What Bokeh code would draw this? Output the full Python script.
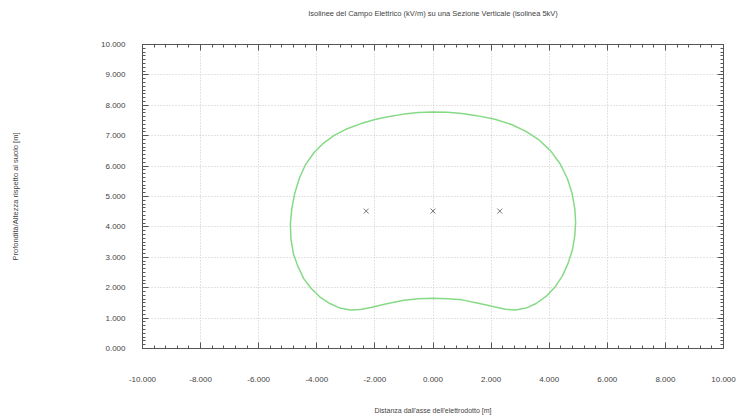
from bokeh.plotting import figure
from bokeh.models import LinearAxis, PrintfTickFormatter, Range1d, SingleIntervalTicker
from bokeh.embed import file_html
from bokeh.resources import INLINE

# Isoline (5 kV/m) contour points
iso_x = [0.0, -0.5, -1.0, -1.5, -2.0, -2.5, -3.0, -3.4, -3.8, -4.1, -4.4, -4.6, -4.76, -4.86,
         -4.91, -4.89, -4.80, -4.65, -4.45, -4.20, -3.90, -3.55, -3.20, -2.85, -2.50, -2.10,
         -1.60, -1.00, -0.50, 0.00, 0.50, 1.00, 1.60, 2.10, 2.50, 2.85, 3.20, 3.55, 3.90,
         4.20, 4.45, 4.65, 4.80, 4.88, 4.91, 4.88, 4.79, 4.62, 4.38, 4.05, 3.65, 3.20, 2.70,
         2.10, 1.50, 1.00, 0.50, 0.0]
iso_y = [7.78, 7.76, 7.71, 7.63, 7.53, 7.39, 7.21, 7.01, 6.73, 6.44, 6.03, 5.60, 5.10, 4.60,
         4.10, 3.60, 3.10, 2.70, 2.30, 1.98, 1.70, 1.48, 1.33, 1.27, 1.28, 1.36,
         1.47, 1.59, 1.64, 1.65, 1.64, 1.60, 1.48, 1.37, 1.29, 1.27, 1.33, 1.48, 1.72,
         2.02, 2.38, 2.80, 3.25, 3.70, 4.15, 4.60, 5.10, 5.60, 6.07, 6.50, 6.86, 7.14, 7.37,
         7.55, 7.66, 7.73, 7.77, 7.78]

# Conductor positions
cond_x = [-2.3, 0.0, 2.3]
cond_y = [4.52, 4.52, 4.52]

title_text = "Isolinee del Campo Elettrico (kV/m) su una Sezione Verticale (isolinea 5kV)"
x_label = "Distanza dall'asse dell'elettrodotto [m]"
y_label = "Profondità/Altezza rispetto al suolo [m]"

FONT = "Liberation Sans"
TXT = "#444444"
AX = "#555555"

p = figure(width=742, height=416, output_backend="svg", toolbar_location=None,
           title_location=None,
           x_range=Range1d(-10, 10), y_range=Range1d(0, 10),
           min_border_left=142, min_border_right=19, min_border_top=44, min_border_bottom=66)
p.background_fill_color = "white"
p.border_fill_color = "white"
p.outline_line_color = AX

xt = SingleIntervalTicker(interval=2, num_minor_ticks=5)
yt = SingleIntervalTicker(interval=1, num_minor_ticks=8)

def style_axis(ax, ticker, show_labels=True):
    ax.ticker = ticker
    ax.formatter = PrintfTickFormatter(format="%.3f")
    ax.axis_line_color = AX
    ax.major_tick_line_color = AX
    ax.minor_tick_line_color = AX
    ax.major_tick_in = 6
    ax.major_tick_out = 0
    ax.minor_tick_in = 3
    ax.minor_tick_out = 0
    ax.major_label_text_font = FONT
    if show_labels:
        ax.major_label_text_color = TXT
        ax.major_label_text_font_size = "8px"
    else:
        ax.major_label_text_color = None
        ax.major_label_text_font_size = "1px"
        ax.major_label_standoff = 0

xa = p.xaxis[0]
ya = p.yaxis[0]
style_axis(xa, xt)
style_axis(ya, yt)
xa.major_label_standoff = 28
ya.major_label_standoff = 17
xa.axis_label = x_label
ya.axis_label = y_label

top_ax = LinearAxis()
right_ax = LinearAxis()
style_axis(top_ax, xt, show_labels=False)
style_axis(right_ax, yt, show_labels=False)
p.add_layout(top_ax, "above")
p.add_layout(right_ax, "right")

# Chart title carried by the (mirrored) top axis label, centred over the frame
top_ax.axis_label = title_text

for ax, fs in ((xa, "7px"), (ya, "7.5px"), (top_ax, "7.5px")):
    ax.axis_label_text_font = FONT
    ax.axis_label_text_font_size = fs
    ax.axis_label_text_font_style = "normal"
    ax.axis_label_text_color = TXT
xa.axis_label_standoff = 22
ya.axis_label_standoff = 78
top_ax.axis_label_standoff = 27

for g in (p.xgrid[0], p.ygrid[0]):
    g.grid_line_color = "#c8c8c8"
    g.grid_line_dash = "1 2"
    g.grid_line_width = 1
p.xgrid[0].ticker = xt
p.ygrid[0].ticker = yt

p.line(iso_x, iso_y, line_color="#86da86", line_width=1.5)
p.scatter(cond_x, cond_y, marker="x", size=7, line_color="#777777", line_width=1)

open("out.html", "w").write(file_html(p, INLINE))
